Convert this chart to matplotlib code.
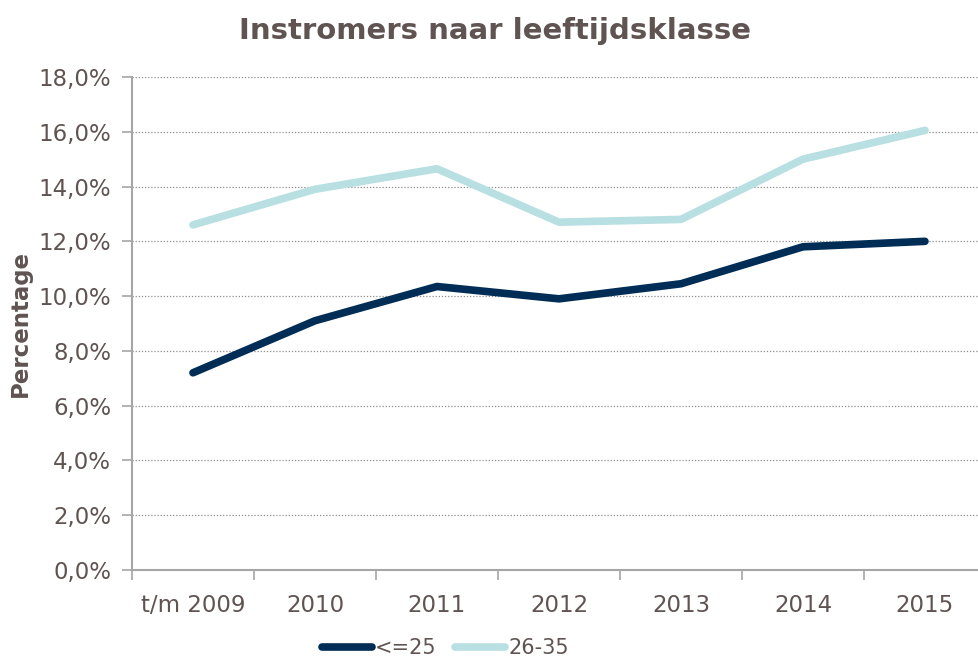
import matplotlib.pyplot as plt
from matplotlib.ticker import FuncFormatter, MultipleLocator, FixedLocator

# Gegevens
jaren = ['t/m 2009', '2010', '2011', '2012', '2013', '2014', '2015']
tot_25 = [7.2, 9.1, 10.35, 9.9, 10.45, 11.8, 12.0]
van_26_35 = [12.6, 13.9, 14.65, 12.7, 12.8, 15.0, 16.05]

tekstkleur = '#5f5452'
asgrijs = '#a6a6a6'

fig = plt.figure(figsize=(9.79, 6.62), dpi=100)
ax = fig.add_axes([0.1348, 0.139, 0.8723, 0.7447])

x = range(len(jaren))
ax.plot(x, tot_25, color='#002d55', linewidth=5.5, solid_capstyle='round',
        solid_joinstyle='round', label='<=25')
ax.plot(x, van_26_35, color='#b8dfe2', linewidth=5.5, solid_capstyle='round',
        solid_joinstyle='round', label='26-35')

ax.set_xlim(-0.5, len(jaren) - 0.5)
ax.set_ylim(0, 18)
ax.yaxis.set_major_locator(MultipleLocator(2))
ax.yaxis.set_major_formatter(FuncFormatter(lambda v, p: f'{v:.1f}%'.replace('.', ',')))

# x-labels in het midden, tickstreepjes tussen de categorieën
ax.set_xticks(list(x))
ax.set_xticklabels(jaren)
ax.xaxis.set_minor_locator(FixedLocator([i - 0.5 for i in range(len(jaren) + 1)]))
ax.tick_params(axis='x', which='major', length=0, pad=17, labelsize=16.5, labelcolor=tekstkleur)
ax.tick_params(axis='x', which='minor', length=7, width=1.2, color=asgrijs, direction='out')
ax.tick_params(axis='y', length=7, width=1.2, color=asgrijs, labelsize=16.5,
               labelcolor=tekstkleur, pad=8)

ax.grid(axis='y', linestyle=(0, (1, 1.5)), color='#8c8c8c', linewidth=0.9)
ax.set_axisbelow(True)
for kant in ['top', 'right']:
    ax.spines[kant].set_visible(False)
for kant in ['left', 'bottom']:
    ax.spines[kant].set_color(asgrijs)
    ax.spines[kant].set_linewidth(1.5)

ax.set_ylabel('Percentage', fontsize=16.5, fontweight='bold', color=tekstkleur, labelpad=5)
fig.suptitle('Instromers naar leeftijdsklasse', x=0.506, y=0.975, fontsize=21,
             fontweight='bold', color=tekstkleur)

leg = fig.legend(loc='lower center', bbox_to_anchor=(0.455, -0.022), ncol=2, frameon=False,
                 fontsize=15, handlelength=2.4, handletextpad=0.15, columnspacing=0.9)
for t in leg.get_texts():
    t.set_color(tekstkleur)

plt.savefig('out.png', dpi=100)
